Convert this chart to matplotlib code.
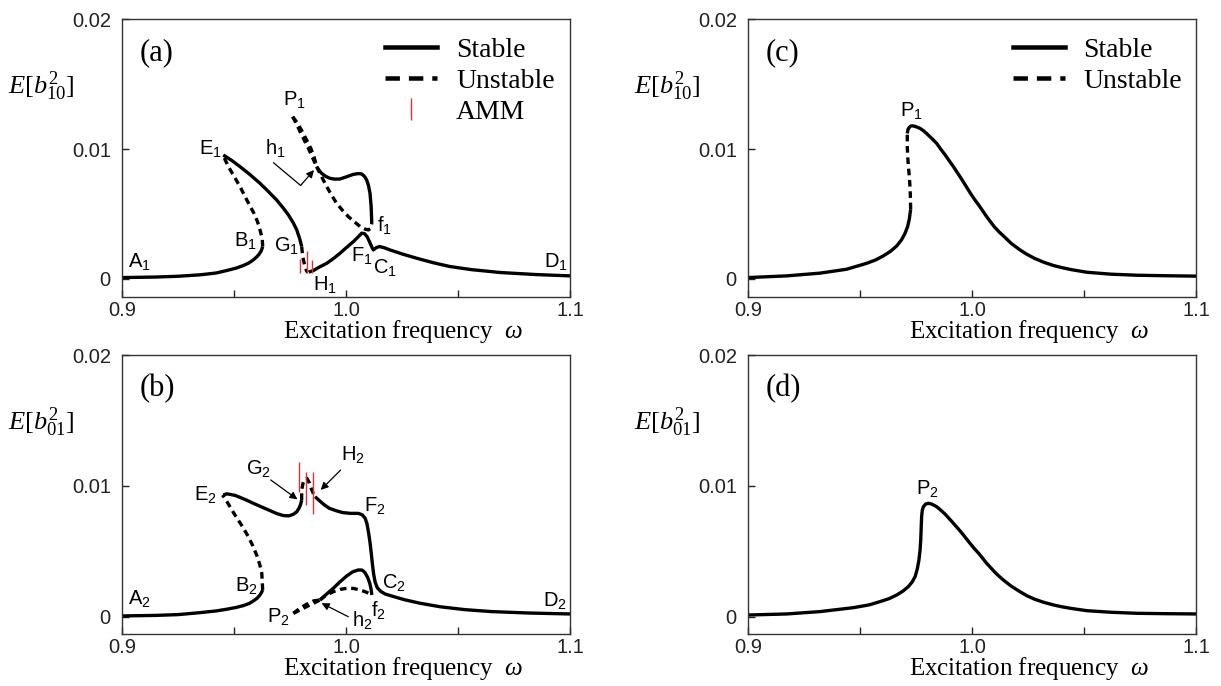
import matplotlib
matplotlib.use('Agg')
import matplotlib.pyplot as plt
from matplotlib.lines import Line2D

plt.rcParams['font.family'] = 'Liberation Sans'
plt.rcParams['mathtext.fontset'] = 'custom'
plt.rcParams['mathtext.rm'] = 'Liberation Serif'
plt.rcParams['mathtext.it'] = 'Liberation Serif:italic'
plt.rcParams['mathtext.sf'] = 'Liberation Sans'

# ---------------- panel (a): E[b10^2], coupled response ----------------
a_AB_x = [0.9003, 0.915, 0.925, 0.9348, 0.942, 0.9467, 0.951, 0.9542, 0.9568, 0.9586, 0.9603, 0.9613, 0.9622, 0.9628]
a_AB_y = [0.0001, 0.00014, 0.0002, 0.00031, 0.00045, 0.00064, 0.00083, 0.00103, 0.00124, 0.00146, 0.00172, 0.00192, 0.00218, 0.00249]
a_BE_x = [0.9628, 0.9626, 0.9616, 0.9605, 0.9589, 0.9557, 0.9527, 0.9497, 0.9475, 0.9452]
a_BE_y = [0.00249, 0.0031, 0.00377, 0.0044, 0.00505, 0.00608, 0.0071, 0.0080, 0.00864, 0.00948]
a_EG_x = [0.9452, 0.9490, 0.9527, 0.9570, 0.9616, 0.9655, 0.9690, 0.9720, 0.9743, 0.9765, 0.9780, 0.9793, 0.9802]
a_EG_y = [0.00954, 0.00912, 0.00864, 0.00805, 0.00736, 0.00670, 0.00608, 0.00545, 0.00492, 0.00430, 0.00377, 0.00310, 0.00249]
a_GH_x = [0.9802, 0.9806, 0.9812, 0.9818, 0.9824, 0.9830]
a_GH_y = [0.00249, 0.0018, 0.0013, 0.0009, 0.00060, 0.0005]
a_HD_x = [0.9834, 0.9854, 0.9880, 0.9914, 0.9945, 0.9973, 1.0003, 1.0033, 1.0055, 1.0070, 1.0083, 1.0095, 1.0105,
          1.0115, 1.0122, 1.0135, 1.0149, 1.0170, 1.0196, 1.0250, 1.0315, 1.0390, 1.0464, 1.0560, 1.0688, 1.0850, 1.1000]
a_HD_y = [0.00052, 0.00064, 0.00090, 0.00120, 0.00158, 0.00197, 0.00243, 0.00287, 0.00325, 0.00352, 0.00348, 0.00322, 0.00285,
          0.00245, 0.00223, 0.00240, 0.00249, 0.00240, 0.00223, 0.00192, 0.00159, 0.00124, 0.00095, 0.00071, 0.00049, 0.00033, 0.00023]
a_Ph_x = [0.9762, 0.9780, 0.9795, 0.9813, 0.9832, 0.9850, 0.9869]
a_Ph_y = [0.01249, 0.01190, 0.01133, 0.0107, 0.01005, 0.00935, 0.00864]
a_Ph2_x = [0.9762, 0.9787, 0.9805, 0.9824, 0.9843, 0.9858, 0.9869]
a_Ph2_y = [0.01249, 0.01190, 0.01133, 0.0107, 0.01005, 0.00935, 0.00864]
a_hf_s_x = [0.9869, 0.9880, 0.9891, 0.9910, 0.9929, 0.9950, 0.9973, 1.0000, 1.0033, 1.0055, 1.0070, 1.0082, 1.0092,
            1.0100, 1.0107, 1.0112, 1.0115]
a_hf_s_y = [0.00864, 0.00835, 0.00813, 0.00789, 0.00774, 0.00768, 0.00769, 0.00785, 0.00805, 0.00811, 0.00808, 0.00790, 0.00762,
            0.00720, 0.00659, 0.00560, 0.00423]
a_hf_u_x = [0.9869, 0.9890, 0.9914, 0.9936, 0.9958, 0.9984, 1.0010, 1.0037, 1.0063, 1.0085, 1.0100, 1.0110, 1.0115]
a_hf_u_y = [0.00864, 0.00790, 0.00710, 0.00643, 0.00582, 0.00528, 0.00480, 0.00440, 0.00403, 0.00383, 0.00377, 0.00390, 0.00423]
a_amm_x = [0.9795, 0.9824, 0.9846]
a_amm_lo = [0.00049, 0.00044, 0.00049]
a_amm_hi = [0.00152, 0.00218, 0.00145]

# ---------------- panel (b): E[b01^2], coupled response ----------------
b_AB_x = [0.9003, 0.915, 0.925, 0.9348, 0.942, 0.9467, 0.951, 0.9542, 0.9568, 0.9586, 0.9603, 0.9616, 0.9623, 0.9628]
b_AB_y = [0.00008, 0.00012, 0.00018, 0.00033, 0.00046, 0.00059, 0.00073, 0.00087, 0.00103, 0.00122, 0.00143, 0.00168, 0.00188, 0.00206]
b_BE_x = [0.9628, 0.9626, 0.9624, 0.9615, 0.9601, 0.9584, 0.9564, 0.9542, 0.9519, 0.9500, 0.9482, 0.9465, 0.9449]
b_BE_y = [0.00206, 0.0027, 0.00333, 0.0040, 0.00473, 0.00543, 0.00613, 0.00678, 0.0074, 0.0079, 0.00842, 0.0089, 0.00931]
b_EG_x = [0.9452, 0.9467, 0.9482, 0.9505, 0.9527, 0.9556, 0.9586, 0.9623, 0.9661, 0.9690, 0.9720, 0.9745, 0.9765,
          0.9780, 0.9790, 0.9797, 0.9802]
b_EG_y = [0.00931, 0.00940, 0.00936, 0.00928, 0.00913, 0.00892, 0.00868, 0.00840, 0.00812, 0.00790, 0.00774, 0.00772, 0.00784,
          0.00803, 0.00830, 0.00858, 0.00893]
b_GH_x = [0.9802, 0.9802, 0.9808, 0.9817, 0.9825, 0.9836, 0.9847, 0.9856]
b_GH_y = [0.00893, 0.0097, 0.0102, 0.01055, 0.01059, 0.01025, 0.0097, 0.00935]
b_HD_x = [0.9862, 0.9880, 0.9900, 0.9925, 0.9958, 0.9985, 1.0020, 1.0055, 1.0072, 1.0085, 1.0093, 1.0100, 1.0107,
          1.0113, 1.0118, 1.0123, 1.0130, 1.0140, 1.0155, 1.0175, 1.0210, 1.0260, 1.0330, 1.0420, 1.0530, 1.0650, 1.0820, 1.1000]
b_HD_y = [0.00918, 0.00890, 0.00860, 0.00830, 0.00810, 0.00797, 0.00791, 0.00791, 0.00780, 0.00755, 0.00715, 0.00650, 0.00570,
          0.00480, 0.00400, 0.00330, 0.00265, 0.00222, 0.00195, 0.00175, 0.00157, 0.00132, 0.00105, 0.00078, 0.00056, 0.00041,
          0.00030, 0.00023]
b_Ph_x = [0.9765, 0.9795, 0.9824, 0.9854, 0.9884]
b_Ph_y = [0.00028, 0.00053, 0.00079, 0.00104, 0.0013]
b_Ph2_x = [0.9765, 0.9795, 0.9824, 0.9854, 0.9884]
b_Ph2_y = [0.00028, 0.00068, 0.00097, 0.00122, 0.0013]
b_hf_s_x = [0.9884, 0.9910, 0.9943, 0.9973, 1.0003, 1.0030, 1.0055, 1.0072, 1.0085, 1.0097, 1.0106, 1.0112, 1.0115]
b_hf_s_y = [0.0013, 0.0017, 0.00219, 0.00268, 0.00313, 0.00345, 0.00359, 0.00358, 0.00338, 0.00300, 0.00257, 0.00210, 0.00168]
b_hf_u_x = [0.9884, 0.9910, 0.9943, 0.9973, 1.0003, 1.0033, 1.0063, 1.0090, 1.0115]
b_hf_u_y = [0.0013, 0.00165, 0.00193, 0.00210, 0.00219, 0.00218, 0.00206, 0.00190, 0.00168]
b_amm_x = [0.9792, 0.9821, 0.9851]
b_amm_lo = [0.00957, 0.00855, 0.00786]
b_amm_hi = [0.01186, 0.01109, 0.01109]

# ---------------- panel (c): E[b10^2], single mode ----------------
c_low_x = [0.9001, 0.9173, 0.9321, 0.9440, 0.9530, 0.9570, 0.9604, 0.9636, 0.9664, 0.9685, 0.9701, 0.9712, 0.9720, 0.9726]
c_low_y = [0.0001, 0.00023, 0.00044, 0.00074, 0.00120, 0.00146, 0.00177, 0.00212, 0.00254, 0.00300, 0.00351, 0.00400, 0.00460, 0.00536]
c_mid_x = [0.9726, 0.9725, 0.9723, 0.9720, 0.9716, 0.9713, 0.9711, 0.9711]
c_mid_y = [0.00536, 0.0062, 0.0071, 0.0079, 0.00864, 0.0094, 0.01018, 0.0112]
c_up_x = [0.9711, 0.9714, 0.9720, 0.9727, 0.9735, 0.9750, 0.9768, 0.9785, 0.9800, 0.9820, 0.9842, 0.9860, 0.9880, 0.9898,
          0.9917, 0.9936, 0.9955, 0.9973, 0.9991, 1.0010, 1.0030, 1.0048, 1.0065, 1.0083, 1.0100, 1.0120, 1.0140, 1.0175,
          1.0214, 1.0245, 1.0280, 1.0320, 1.0363, 1.0400, 1.0440, 1.0512, 1.0620, 1.0735, 1.0870, 1.1000]
c_up_y = [0.0112, 0.01150, 0.01167, 0.01177, 0.01179, 0.01172, 0.01159, 0.01139, 0.01115, 0.01082, 0.01044, 0.01000, 0.00955,
          0.00910, 0.00864, 0.00814, 0.00764, 0.00714, 0.00664, 0.00615, 0.00568, 0.00523, 0.00480, 0.00438, 0.00400, 0.00363,
          0.00331, 0.00273, 0.00223, 0.00189, 0.00157, 0.00128, 0.00103, 0.00087, 0.00072, 0.00051, 0.00036, 0.00028, 0.00024,
          0.00021]

# ---------------- panel (d): E[b01^2], single mode ----------------
d_x = [0.9001, 0.9173, 0.9321, 0.9470, 0.9540, 0.9589, 0.9630, 0.9664, 0.9692, 0.9716, 0.9733, 0.9746, 0.9756, 0.9763,
       0.9768, 0.9771, 0.9773, 0.9775, 0.9778, 0.9783, 0.9793, 0.9805, 0.9820, 0.9842, 0.9860, 0.9880, 0.9898, 0.9917,
       0.9936, 0.9955, 0.9973, 0.9991, 1.0010, 1.0030, 1.0048, 1.0065, 1.0083, 1.0100, 1.0120, 1.0140, 1.0175, 1.0214,
       1.0245, 1.0280, 1.0320, 1.0363, 1.0400, 1.0440, 1.0512, 1.0620, 1.0735, 1.0870, 1.1000]
d_y = [0.00015, 0.00023, 0.00041, 0.00071, 0.00092, 0.00117, 0.00140, 0.00168, 0.00198, 0.00232, 0.00268, 0.00308, 0.00370,
       0.00435, 0.00510, 0.00588, 0.00680, 0.00766, 0.00815, 0.00842, 0.00862, 0.00868, 0.00862, 0.00842, 0.00816, 0.00785,
       0.00751, 0.00715, 0.00678, 0.00640, 0.00601, 0.00562, 0.00523, 0.00485, 0.00447, 0.00410, 0.00377, 0.00345, 0.00312,
       0.00282, 0.00235, 0.00193, 0.00162, 0.00135, 0.00112, 0.00092, 0.00078, 0.00066, 0.00048, 0.00036, 0.00028, 0.00025,
       0.00023]

# point labels: (text, x, y) with x, y at left/baseline
a_points = [('A_1', 0.9027, 0.00085), ('B_1', 0.9500, 0.00246), ('E_1', 0.9344, 0.00954), ('G_1', 0.9679, 0.00208),
            ('H_1', 0.9853, -0.00092), ('P_1', 0.9719, 0.01331), ('h_1', 0.9638, 0.00954), ('f_1', 1.0138, 0.00362),
            ('F_1', 1.0022, 0.00131), ('C_1', 1.0121, 0.00038), ('D_1', 1.0884, 0.00085)]
b_points = [('A_2', 0.9027, 0.00092), ('B_2', 0.9504, 0.00191), ('E_2', 0.9321, 0.00889), ('G_2', 0.9554, 0.01084),
            ('H_2', 0.9978, 0.01191), ('F_2', 1.0080, 0.00802), ('C_2', 1.0161, 0.00214), ('P_2', 0.9647, -0.00046),
            ('h_2', 1.0027, -0.00076), ('f_2', 1.0112, 0.00000), ('D_2', 1.0880, 0.00076)]
c_points = [('P_1', 0.9679, 0.01248)]
d_points = [('P_2', 0.9749, 0.00931)]

# arrows: (tail x, tail y, head x, head y)
a_arrow_h = (0.9676, 0.00895, 0.9857, 0.00838)
b_arrows = [(0.9664, 0.01046, 0.9783, 0.00898),
            (0.9976, 0.01122, 0.9887, 0.00970),
            (1.0010, 0.00002, 0.9891, 0.00105)]

LW = 2.4
DASH = (0, (2.0, 1.4))
RED = '#e0303c'
serif = 'Liberation Serif'

fig = plt.figure(figsize=(12.21, 6.86), dpi=100)
ax_a = fig.add_axes([0.0999, 0.567, 0.367, 0.405])
ax_b = fig.add_axes([0.0999, 0.0758, 0.367, 0.4067])
ax_c = fig.add_axes([0.6126, 0.567, 0.367, 0.405])
ax_d = fig.add_axes([0.6126, 0.0758, 0.367, 0.4067])


def stable(ax, x, y):
    ax.plot(x, y, color='k', lw=LW, solid_capstyle='butt', solid_joinstyle='round')


def unstable(ax, x, y):
    ax.plot(x, y, color='k', lw=LW, linestyle=DASH, dash_capstyle='butt')


def style(ax, letter, ylab, ybot):
    ax.set_xlim(0.9, 1.1)
    ax.set_ylim(ybot, 0.02)
    ax.set_xticks([0.9, 0.95, 1.0, 1.05, 1.1])
    ax.set_xticklabels(['0.9', '', '1.0', '', '1.1'])
    ax.set_yticks([0, 0.01, 0.02])
    ax.set_yticklabels(['0', '0.01', '0.02'])
    ax.tick_params(direction='in', length=5, width=1, labelsize=14.5, colors='#222222')
    ax.tick_params(axis='x', pad=3)
    ax.tick_params(axis='y', pad=8)
    for sp in ax.spines.values():
        sp.set_linewidth(1.0)
        sp.set_color('#333333')
    ax.set_xlabel(r'Excitation frequency  $\omega$', fontsize=18, family=serif, va='center')
    ax.xaxis.set_label_coords(0.627, -0.125)
    ax.text(-0.254, 0.758, ylab, transform=ax.transAxes, fontsize=19, ha='left', va='center')
    ax.text(0.04, 0.853, letter, transform=ax.transAxes, fontsize=22, family=serif, ha='left', va='baseline')


def point_labels(ax, pts):
    for name, x, y in pts:
        ax.text(x, y, r'$\mathsf{' + name + '}$', fontsize=14.5, ha='left', va='baseline')


def arrow(ax, tail_x, tail_y, head_x, head_y, conn='arc3'):
    ax.annotate('', xy=(head_x, head_y), xytext=(tail_x, tail_y),
                arrowprops=dict(arrowstyle='-|>', color='k', lw=0.9, mutation_scale=11,
                                shrinkA=0, shrinkB=0, connectionstyle=conn))


# panel (a)
stable(ax_a, a_AB_x, a_AB_y)
unstable(ax_a, a_BE_x, a_BE_y)
stable(ax_a, a_EG_x, a_EG_y)
unstable(ax_a, a_GH_x, a_GH_y)
stable(ax_a, a_HD_x, a_HD_y)
unstable(ax_a, a_Ph_x, a_Ph_y)
unstable(ax_a, a_Ph2_x, a_Ph2_y)
stable(ax_a, a_hf_s_x, a_hf_s_y)
unstable(ax_a, a_hf_u_x, a_hf_u_y)
ax_a.vlines(a_amm_x, a_amm_lo, a_amm_hi, color=RED, lw=1.0)
point_labels(ax_a, a_points)
arrow(ax_a, *a_arrow_h, conn='angle,angleA=-40,angleB=49,rad=0')
style(ax_a, '(a)', r'$E[b_{10}^2]$', -0.0014)

# panel (b)
stable(ax_b, b_AB_x, b_AB_y)
unstable(ax_b, b_BE_x, b_BE_y)
stable(ax_b, b_EG_x, b_EG_y)
unstable(ax_b, b_GH_x, b_GH_y)
stable(ax_b, b_HD_x, b_HD_y)
unstable(ax_b, b_Ph_x, b_Ph_y)
unstable(ax_b, b_Ph2_x, b_Ph2_y)
stable(ax_b, b_hf_s_x, b_hf_s_y)
unstable(ax_b, b_hf_u_x, b_hf_u_y)
ax_b.vlines(b_amm_x, b_amm_lo, b_amm_hi, color=RED, lw=1.0)
point_labels(ax_b, b_points)
for arr in b_arrows:
    arrow(ax_b, *arr)
style(ax_b, '(b)', r'$E[b_{01}^2]$', -0.0013)

# panel (c)
stable(ax_c, c_low_x, c_low_y)
unstable(ax_c, c_mid_x, c_mid_y)
stable(ax_c, c_up_x, c_up_y)
point_labels(ax_c, c_points)
style(ax_c, '(c)', r'$E[b_{10}^2]$', -0.0014)

# panel (d)
stable(ax_d, d_x, d_y)
point_labels(ax_d, d_points)
style(ax_d, '(d)', r'$E[b_{01}^2]$', -0.0013)

# legends
h_stable = Line2D([], [], color='k', lw=LW * 1.35)
h_unstable = Line2D([], [], color='k', lw=LW * 1.35, linestyle=(0, (3.2, 2.0)))
h_amm = Line2D([], [], color=RED, marker='|', linestyle='None', markersize=16, markeredgewidth=1.0)
leg_kw = dict(loc='upper right', frameon=False, borderpad=0, borderaxespad=0,
              handlelength=1.87, handletextpad=0.68, labelspacing=0.2,
              prop={'family': serif, 'size': 20})
ax_a.legend([h_stable, h_unstable, h_amm], ['Stable', 'Unstable', 'AMM'],
            bbox_to_anchor=(0.966, 0.935), **leg_kw)
ax_c.legend([h_stable, h_unstable], ['Stable', 'Unstable'],
            bbox_to_anchor=(0.969, 0.935), **leg_kw)

fig.savefig('out.png', dpi=100)
